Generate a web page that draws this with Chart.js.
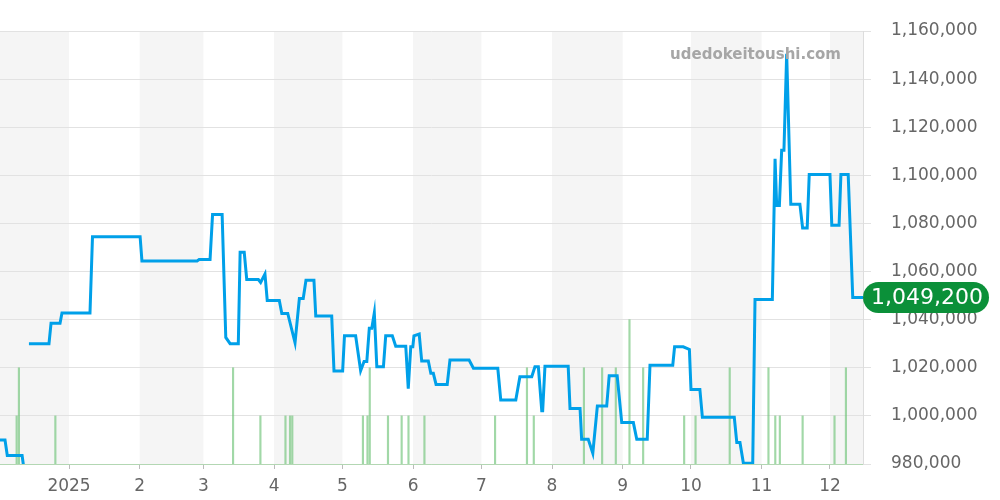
<!DOCTYPE html>
<html>
<head>
<meta charset="utf-8">
<script src="https://cdn.jsdelivr.net/npm/chart.js@4/dist/chart.umd.min.js"></script>
<style>
  body { margin: 0; background: #fff; }
  #wrap { width: 1000px; height: 500px; }
</style>
</head>
<body>
<div id="wrap"><canvas id="price"></canvas></div>
<script>
// days counted from 2025-01-01
const xMin = -30.3
const xMax = 348.5
const monthStarts = [-31, 0, 31, 59, 90, 120, 151, 181, 212, 243, 273, 304, 334, 365]
const tickDays = [0, 31, 59, 90, 120, 151, 181, 212, 243, 273, 304, 334]
const tickLabels = ['2025', '2', '3', '4', '5', '6', '7', '8', '9', '10', '11', '12']

const lineDays = [
  -31, -28.1, -27.1, -20.6, -19.5, -18.5,
  -17.6, -8.8, -7.9, -3.95, -3.1, 9.2, 10.3, 31.2, 32.0, 56.2, 57.1, 61.9, 63.0, 67.2,
  68.8, 70.7, 74.3, 75.1, 76.9, 78.0, 83.1, 84.1, 86.0, 87.0, 92.3, 93.4, 96.0, 99.2,
  101.1, 102.8, 104.0, 107.5, 108.3, 115.3, 116.3, 120.1, 120.9, 125.8, 128.0, 129.5,
  130.7, 131.8, 132.9, 134.0, 135.1, 138.0, 139.0, 141.9, 143.4, 147.8, 148.9, 150.0,
  150.9, 151.4, 153.7, 154.8, 157.7, 158.8, 159.9, 161.1, 166.0, 167.2, 175.6, 177.5,
  188.2, 189.5, 196.1, 197.9, 203.1, 204.5, 206.0, 207.5, 207.9, 208.9, 219.1, 219.9,
  224.3, 225.0, 227.9, 229.9, 231.9, 236.0, 237.1, 240.6, 242.6, 247.7, 249.2, 253.8,
  255.0, 265.0, 265.8, 269.6, 272.3, 273.0, 276.9, 278.0, 292.0, 293.1, 294.5, 296.0,
  300.1, 301.1, 308.7, 309.9, 310.6, 311.8, 312.8, 313.8, 315.0, 316.8, 320.8, 322.0,
  324.0, 324.9, 334.0, 334.8, 338.0, 338.8, 342.0, 344.0, 349
]
const linePrices = [
  990000, 990000, 983500, 983500, 976000, null,
  1030000, 1030000, 1038500, 1038500, 1042800, 1042800, 1074500, 1074500, 1064400, 1064400, 1065000, 1065000, 1083700, 1083700,
  1032600, 1030000, 1030000, 1068000, 1068000, 1056700, 1056700, 1055500, 1059000, 1048000, 1048000, 1042600, 1042600, 1030400,
  1048800, 1048800, 1056400, 1056400, 1041500, 1041500, 1018700, 1018700, 1033300, 1033300, 1018800, 1022600,
  1022600, 1036400, 1036400, 1042800, 1020400, 1020400, 1033300, 1033300, 1029000, 1029000, 1011300, 1028700,
  1028700, 1033300, 1034000, 1022800, 1022800, 1017700, 1017700, 1013100, 1013100, 1023200, 1023200, 1019800,
  1019800, 1006600, 1006600, 1016300, 1016300, 1020400, 1020400, 1002100, 1002100, 1020600, 1020600, 1003100,
  1003100, 990300, 990300, 984500, 1004100, 1004100, 1016700, 1016700, 997200, 997200, 990300, 990300,
  1021100, 1021100, 1028700, 1028700, 1027600, 1011000, 1011000, 999400, 999400, 988900, 988900, 980300,
  980300, 1048400, 1048400, 1106900, 1087500, 1087500, 1110400, 1110400, 1150500, 1088000, 1088000, 1078100,
  1078100, 1100300, 1100300, 1079200, 1079200, 1100300, 1100300, 1049200, 1049200
]

const volDays = [-23, -22, -6, 72, 84, 95, 97, 98, 129, 131, 132, 140, 146, 149, 156, 187, 201, 204,
  226, 234, 240, 246, 252, 270, 275, 290, 307, 310, 312, 322, 336, 341]
const volCounts = [1, 2, 1, 2, 1, 1, 1, 1, 1, 1, 2, 1, 1, 1, 1, 1, 2, 1,
  2, 2, 2, 3, 2, 1, 1, 2, 2, 1, 1, 1, 1, 2]

const lastPrice = 1049200
const siteName = 'udedokeitoushi.com'

const fmt = v => Number(v).toLocaleString('en-US')

const monthBands = {
  id: 'monthBands',
  beforeDraw(chart) {
    const {ctx, chartArea} = chart
    const x = chart.scales.x
    ctx.save()
    ctx.beginPath()
    ctx.rect(chartArea.left, chartArea.top, chartArea.width, chartArea.height)
    ctx.clip()
    ctx.fillStyle = '#f5f5f5'
    for (let i = 0; i < monthStarts.length - 1; i += 2) {
      const a = x.getPixelForValue(monthStarts[i])
      const b = x.getPixelForValue(monthStarts[i + 1])
      ctx.fillRect(a, chartArea.top, b - a, chartArea.height)
    }
    ctx.restore()
  },
  afterDraw(chart) {
    const {ctx, chartArea} = chart
    const y = chart.scales.y.getPixelForValue(lastPrice)

    // watermark
    ctx.save()
    ctx.font = 'bold 15px "DejaVu Sans"'
    ctx.fillStyle = '#a6a6a6'
    ctx.textAlign = 'right'
    ctx.textBaseline = 'alphabetic'
    ctx.fillText(siteName, 841, 59)

    // last price pill
    const left = chartArea.right, w = 126, h = 31
    ctx.fillStyle = '#0b9039'
    ctx.beginPath()
    ctx.roundRect(left, y - h / 2, w, h, h / 2)
    ctx.fill()
    ctx.font = '22px "DejaVu Sans"'
    ctx.fillStyle = '#fff'
    ctx.textAlign = 'center'
    ctx.textBaseline = 'middle'
    ctx.fillText(fmt(lastPrice), left + w / 2 + 1, y + 1)
    ctx.restore()
  }
}

new Chart(document.getElementById('price'), {
  type: 'line',
  data: {
    datasets: [
      {
        type: 'line',
        data: lineDays.map((d, i) => ({x: d, y: linePrices[i]})),
        borderColor: '#00a0e9',
        borderWidth: 3,
        pointRadius: 0,
        tension: 0,
        spanGaps: false,
        yAxisID: 'y',
        order: 0
      },
      {
        type: 'bar',
        data: volDays.map((d, i) => ({x: d, y: volCounts[i]})),
        backgroundColor: 'rgba(110,195,120,0.65)',
        barThickness: 1.5,
        grouped: false,
        yAxisID: 'vol',
        order: 1
      }
    ]
  },
  options: {
    responsive: true,
    maintainAspectRatio: false,
    animation: false,
    layout: {padding: {top: 31, left: 0, right: 0, bottom: 0}},
    plugins: {legend: {display: false}, tooltip: {enabled: false}},
    scales: {
      x: {
        type: 'linear',
        min: xMin,
        max: xMax,
        offset: false,
        afterBuildTicks: s => { s.ticks = tickDays.map(v => ({value: v})) },
        afterFit: s => { s.height = 36 },
        grid: {drawOnChartArea: false, offset: false, tickLength: 5, color: '#bbb'},
        border: {color: 'rgba(140,205,140,0.55)', dash: [1, 3]},
        ticks: {
          autoSkip: false,
          maxRotation: 0,
          padding: 7,
          color: '#666',
          font: {family: 'DejaVu Sans', size: 17},
          callback: v => tickLabels[tickDays.indexOf(v)]
        }
      },
      y: {
        position: 'right',
        min: 980000,
        max: 1160000,
        afterFit: s => { s.width = 137 },
        grid: {color: '#e2e2e2', tickLength: 8},
        border: {color: '#ddd'},
        ticks: {
          stepSize: 20000,
          padding: 20,
          color: '#666',
          font: {family: 'DejaVu Sans', size: 17},
          callback: v => fmt(v)
        }
      },
      vol: {
        display: false,
        min: 0,
        max: 9
      }
    }
  },
  plugins: [monthBands]
})
</script>
</body>
</html>
